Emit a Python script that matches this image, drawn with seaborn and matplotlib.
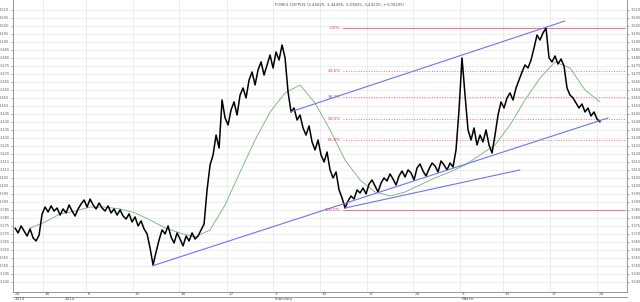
import numpy as np
import pandas as pd
import seaborn as sns
import matplotlib
matplotlib.use("Agg")
import matplotlib.pyplot as plt
from matplotlib.lines import Line2D

title = "FOREX CHFPLN (3.44025, 3.44495, 3.43825, 3.44220, +0.00205)"

# closing prices, one value per bar
close = [
    3.3735, 3.3704, 3.3748, 3.3716, 3.3685, 3.3729, 3.3673, 3.3654, 3.3691, 3.3823,
    3.3866, 3.3835, 3.3873, 3.3841, 3.3860, 3.3816, 3.3854, 3.3829, 3.3879, 3.3841,
    3.3810, 3.3854, 3.3885, 3.3910, 3.3866, 3.3916, 3.3879, 3.3854, 3.3891, 3.3860,
    3.3841, 3.3873, 3.3829, 3.3854, 3.3816, 3.3848, 3.3810, 3.3791, 3.3823, 3.3773,
    3.3804, 3.3748, 3.3779, 3.3729, 3.3698, 3.3610, 3.3504, 3.3585, 3.3660, 3.3723,
    3.3698, 3.3748, 3.3679, 3.3641, 3.3704, 3.3666, 3.3623, 3.3685, 3.3654, 3.3704,
    3.3666, 3.3685, 3.3723, 3.3760, 3.3973, 3.4129, 3.4191, 3.4316, 3.4235, 3.4535,
    3.4423, 3.4379, 3.4473, 3.4523, 3.4441, 3.4566, 3.4610, 3.4548, 3.4660, 3.4710,
    3.4629, 3.4723, 3.4773, 3.4691, 3.4754, 3.4816, 3.4735, 3.4835, 3.4785, 3.4879,
    3.4798, 3.4585, 3.4460, 3.4485, 3.4410, 3.4441, 3.4360, 3.4316, 3.4373, 3.4273,
    3.4223, 3.4285, 3.4191, 3.4148, 3.4210, 3.4098, 3.4048, 3.4085, 3.3973, 3.3923,
    3.3860, 3.3904, 3.3935, 3.3916, 3.3973, 3.3954, 3.3985, 3.3948, 3.4010, 3.4035,
    3.3998, 3.3960, 3.4016, 3.4048, 3.4029, 3.4073, 3.4041, 3.4004, 3.4060, 3.4091,
    3.4054, 3.4098, 3.4079, 3.4035, 3.4110, 3.4135, 3.4091, 3.4060, 3.4104, 3.4141,
    3.4123, 3.4085, 3.4154, 3.4129, 3.4098, 3.4141, 3.4116, 3.4223, 3.4473, 3.4798,
    3.4566, 3.4348, 3.4285, 3.4360, 3.4254, 3.4316, 3.4273, 3.4348, 3.4254, 3.4204,
    3.4316, 3.4441, 3.4523, 3.4485, 3.4548, 3.4579, 3.4535, 3.4610, 3.4660, 3.4710,
    3.4754, 3.4735, 3.4785, 3.4860, 3.4941, 3.4910, 3.4954, 3.4985, 3.4798, 3.4773,
    3.4810, 3.4760, 3.4791, 3.4748, 3.4610, 3.4566, 3.4548, 3.4516, 3.4485, 3.4510,
    3.4460, 3.4485, 3.4435, 3.4460, 3.4416, 3.4398,
]

# moving average, read every 5th bar
ma_bar = [5, 10, 15, 20, 25, 30, 35, 40, 45, 50, 55, 60, 65, 70, 75, 80, 85, 90, 95, 100,
          105, 110, 115, 120, 125, 130, 135, 140, 145, 150, 155, 160, 165, 170, 175, 180,
          185, 190, 195]
ma = [3.3735, 3.3773, 3.3823, 3.3841, 3.3866, 3.3866, 3.3854, 3.3829, 3.3785, 3.3735,
      3.3704, 3.3679, 3.3723, 3.3879, 3.4085, 3.4285, 3.4460, 3.4579, 3.4629, 3.4516,
      3.4348, 3.4160, 3.4035, 3.3960, 3.3935, 3.3960, 3.4004, 3.4048, 3.4085, 3.4129,
      3.4191, 3.4254, 3.4379, 3.4535, 3.4673, 3.4773, 3.4735, 3.4598, 3.4523]

tick_pos = [-0.7, 9.3, 23.7, 39.3, 54.7, 70.7, 86, 101.7, 117.3, 132.7, 148.3, 162.7, 178.3, 194]
tick_labels = ["23", "30", "6", "13", "20", "27", "3", "10", "17", "24", "3", "10", "17", "24"]
period_pos = [-0.7, 16, 86, 148.3]
period_labels = ["2013", "2014", "February", "March"]

fib_labels = ["0.0%", "23.6%", "38.2%", "50.0%", "61.8%", "100.0%"]
fib_values = [3.4985, 3.4716, 3.4551, 3.4416, 3.4282, 3.3848]
fib_start = 109.3

trend_x = [[45.7, 197.7], [110, 168.3], [91.7, 183.3]]
trend_y = [[3.3498, 3.4423], [3.3860, 3.4098], [3.4460, 3.5029]]

sns.set_theme(style="white")
plt.rcParams['font.family'] = ['DejaVu Sans']

W, H = 640, 302
fig = plt.figure(figsize=(6.4, 3.02), dpi=100)
ax_l, ax_r, ax_t, ax_b = 13, 627, 0, 292
ax = fig.add_axes([ax_l / W, 1 - ax_b / H, (ax_r - ax_l) / W, (ax_b - ax_t) / H])

df = pd.DataFrame({"bar": np.arange(len(close)), "close": close})
dma = pd.DataFrame({"bar": ma_bar, "ma": ma})

ylo, yhi = 3.516 - 292 * 0.000625, 3.516
xlo, xhi = -0.67, 204

yt = np.round(np.arange(3.340, 3.5101, 0.005), 3)
for v in yt:
    ax.axhline(v, color="#e8e8e8", lw=0.5, zorder=0)
for p in tick_pos:
    ax.axvline(p, color="#e4e4e4", lw=0.5, zorder=0)

for lab, v in zip(fib_labels, fib_values):
    solid = lab in ("0.0%", "100.0%")
    ax.plot([fib_start, xhi - 0.6], [v, v], color="#f5708a", lw=0.7,
            ls="-" if solid else (0, (1.0, 1.6)), zorder=1)
    ax.text(fib_start - 0.8, v, lab, color="#ee3355", fontsize=3.0,
            ha="right", va="center")

sns.lineplot(data=dma, x="bar", y="ma", color="#72b072", lw=0.6, ax=ax, zorder=2)
sns.lineplot(data=df, x="bar", y="close", color="black", lw=1.1, ax=ax, zorder=3)

for tx, ty in zip(trend_x, trend_y):
    ax.plot(tx, ty, color="#7272ee", lw=0.8, zorder=4)

ax.set_xlim(xlo, xhi)
ax.set_ylim(ylo, yhi)
ax.set_xlabel("")
ax.set_ylabel("")
ax.set_yticks(yt)
ax.set_yticklabels([f"{v:.3f}" for v in yt])
ax.tick_params(axis="y", which="both", left=True, right=True, labelleft=True,
               labelright=True, labelsize=2.6, length=1.5, width=0.4,
               colors="#666666", pad=1)
ax.set_xticks(tick_pos)
ax.set_xticklabels([])
ax.tick_params(axis="x", length=3.2, width=0.4, colors="#777777", direction="out")

for s in ax.spines.values():
    s.set_color("#888888")
    s.set_linewidth(0.6)
ax.spines["top"].set_visible(False)

trans = ax.get_xaxis_transform()
strip = Line2D([0, 1], [-4.5 / 292, -4.5 / 292], transform=ax.transAxes,
               color="#888888", lw=0.6, clip_on=False)
ax.add_artist(strip)
for p, lab in zip(tick_pos, tick_labels):
    ax.text(p + 0.6, -2.4 / 292, lab, transform=trans, fontsize=3.0, color="#555555",
            ha="left", va="center", clip_on=False)
for p, lab in zip(period_pos, period_labels):
    ax.text(p + 0.6, -7.2 / 292, lab, transform=trans, fontsize=3.0, color="#555555",
            ha="left", va="center", clip_on=False)

ax.text(275 / W, 1 - 4.5 / H, title, transform=fig.transFigure, fontsize=2.9,
        color="#555555", ha="left", va="center")

fig.savefig("out.png", dpi=100, facecolor="white")
